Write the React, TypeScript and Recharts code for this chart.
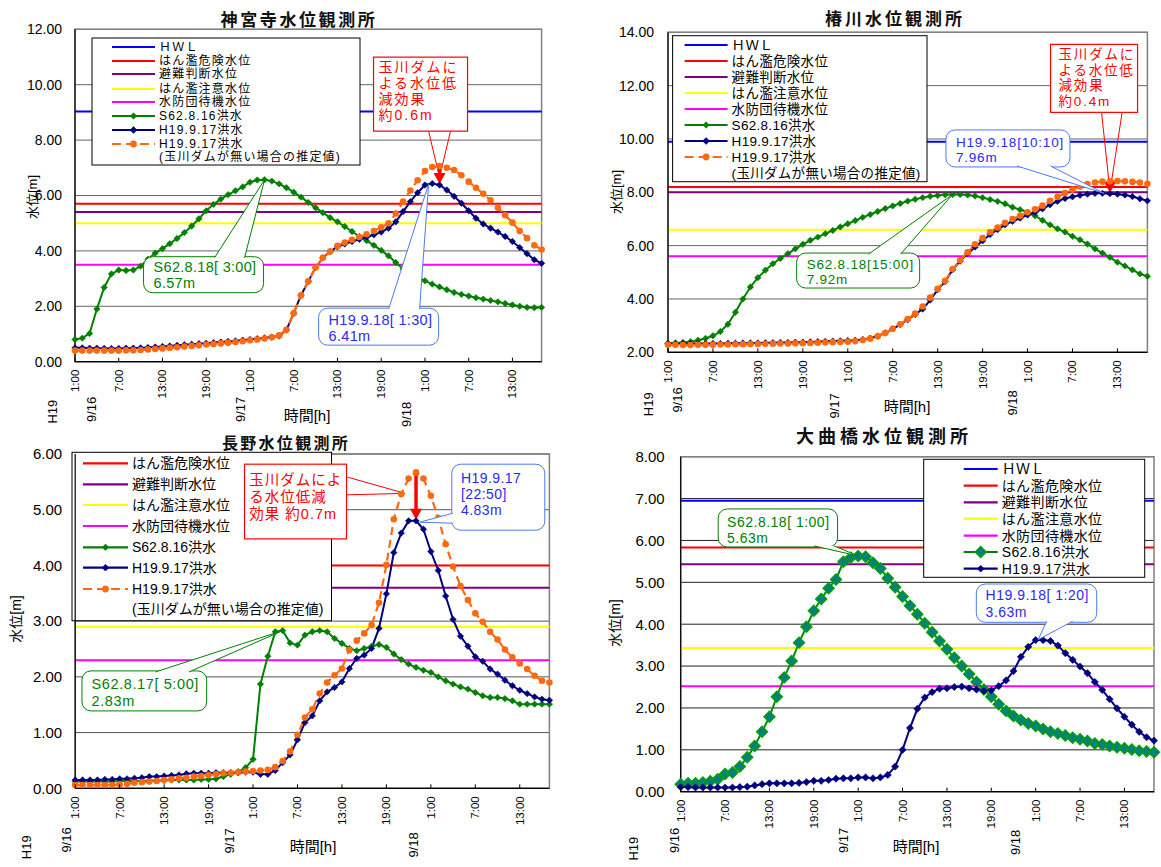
import React from "react";
import {
  LineChart,
  Line,
  XAxis,
  YAxis,
  CartesianGrid,
  ReferenceLine,
  ReferenceDot,
  ReferenceArea,
} from "recharts";

const JP = '"Noto Sans CJK JP", "Noto Sans", sans-serif';
const NUM = '"Liberation Sans", Arial, "Noto Sans CJK JP", sans-serif';

// time axis (hours from 9/16 1:00)
const tickHours = [0, 6, 12, 18, 24, 30, 36, 42, 48, 54, 60];
const tickLabels = ["1:00", "7:00", "13:00", "19:00", "1:00", "7:00", "13:00", "19:00", "1:00", "7:00", "13:00"];
const dateHours = [0, 24, 48];
const dateLabels = ["9/16", "9/17", "9/18"];
const eraLabel = "H19";

// warning levels
const levelNames = ["ＨＷＬ", "はん濫危険水位", "避難判断水位", "はん濫注意水位", "水防団待機水位"];
const levelColors = ["#0000ff", "#ff0000", "#800080", "#ffff00", "#ff00ff"];
const s62Name = "S62.8.16洪水";
const h19Name = "H19.9.17洪水";
const estName = "H19.9.17洪水";
const estNote = "(玉川ダムが無い場合の推定値)";

// 神宮寺
const jgLevels = [9.03, 5.7, 5.4, 5.0, 3.5];
const jgTicks = [0, 2, 4, 6, 8, 10, 12];
const jgS62 = [0.80,0.85,1.02,1.90,2.68,3.17,3.31,3.29,3.31,3.45,3.70,3.92,4.08,4.26,4.45,4.66,4.90,5.16,5.45,5.68,5.87,6.03,6.17,6.31,6.48,6.56,6.57,6.52,6.42,6.28,6.12,5.94,5.75,5.56,5.38,5.20,5.05,4.88,4.70,4.52,4.37,4.20,4.02,3.82,3.58,3.35,3.18,3.05,2.92,2.80,2.70,2.60,2.50,2.43,2.37,2.31,2.26,2.21,2.16,2.10,2.05,2.00,1.96,1.95,1.96];
const jgH19 = [0.50,0.50,0.49,0.49,0.48,0.48,0.48,0.49,0.49,0.50,0.51,0.53,0.55,0.57,0.59,0.61,0.63,0.65,0.67,0.69,0.71,0.73,0.75,0.78,0.80,0.83,0.86,0.89,0.93,1.15,1.75,2.40,2.90,3.40,3.75,3.98,4.15,4.25,4.34,4.42,4.50,4.58,4.68,4.82,5.05,5.42,5.78,6.10,6.38,6.43,6.38,6.20,5.97,5.72,5.45,5.18,4.97,4.82,4.68,4.52,4.34,4.12,3.90,3.68,3.55];
const jgEst = [0.40,0.40,0.40,0.40,0.40,0.40,0.40,0.41,0.41,0.42,0.44,0.46,0.48,0.50,0.52,0.55,0.57,0.59,0.62,0.64,0.66,0.68,0.71,0.74,0.77,0.80,0.84,0.88,0.95,1.15,1.75,2.40,2.90,3.40,3.75,3.98,4.18,4.30,4.40,4.50,4.60,4.72,4.85,5.00,5.35,5.78,6.18,6.55,6.88,7.03,7.06,7.00,6.92,6.73,6.50,6.28,6.06,5.83,5.56,5.29,5.02,4.72,4.46,4.20,4.05];

// 椿川
const tbLevels = [9.9, 8.2, 8.0, 6.6, 5.6];
const tbTicks = [2, 4, 6, 8, 10, 12, 14];
const tbS62 = [2.34,2.35,2.37,2.40,2.45,2.52,2.62,2.78,3.05,3.50,4.00,4.45,4.80,5.08,5.32,5.52,5.70,5.88,6.05,6.20,6.32,6.45,6.57,6.70,6.82,6.94,7.06,7.17,7.28,7.39,7.49,7.58,7.67,7.74,7.80,7.85,7.88,7.91,7.92,7.92,7.90,7.86,7.80,7.73,7.66,7.57,7.44,7.35,7.25,7.12,6.95,6.78,6.63,6.51,6.35,6.22,6.06,5.88,5.72,5.56,5.38,5.24,5.09,4.94,4.85];
const tbH19 = [2.33,2.33,2.33,2.33,2.33,2.33,2.33,2.33,2.34,2.34,2.35,2.35,2.35,2.36,2.36,2.37,2.37,2.38,2.38,2.39,2.40,2.41,2.42,2.43,2.44,2.45,2.48,2.53,2.61,2.73,2.88,3.04,3.22,3.42,3.62,3.96,4.35,4.65,5.10,5.42,5.70,5.95,6.18,6.42,6.60,6.78,6.91,7.03,7.15,7.25,7.38,7.53,7.66,7.77,7.83,7.89,7.93,7.96,7.96,7.95,7.93,7.90,7.84,7.76,7.68];
const tbEst = [2.28,2.28,2.27,2.27,2.28,2.28,2.28,2.29,2.29,2.30,2.30,2.31,2.31,2.32,2.32,2.33,2.33,2.34,2.34,2.35,2.36,2.37,2.38,2.39,2.40,2.42,2.46,2.52,2.60,2.72,2.88,3.05,3.25,3.45,3.72,4.05,4.38,4.68,5.12,5.45,5.75,6.05,6.28,6.50,6.68,6.86,7.00,7.12,7.25,7.36,7.50,7.68,7.83,7.97,8.10,8.22,8.31,8.37,8.40,8.41,8.42,8.41,8.39,8.37,8.32];

// 長野
const ngLevels = [null, 4.0, 3.6, 2.9, 2.3];
const ngTicks = [0, 1, 2, 3, 4, 5, 6];
const ngS62 = [0.12,0.12,0.12,0.12,0.12,0.12,0.13,0.13,0.13,0.13,0.14,0.14,0.14,0.15,0.15,0.15,0.15,0.16,0.16,0.17,0.21,0.25,0.30,0.37,0.52,1.87,2.37,2.81,2.83,2.61,2.57,2.75,2.81,2.83,2.81,2.69,2.60,2.51,2.47,2.51,2.55,2.58,2.53,2.41,2.31,2.23,2.17,2.12,2.08,2.00,1.93,1.87,1.82,1.78,1.72,1.66,1.63,1.63,1.61,1.57,1.51,1.51,1.51,1.51,1.51];
const ngH19 = [0.15,0.15,0.15,0.15,0.16,0.16,0.17,0.17,0.18,0.19,0.21,0.21,0.22,0.23,0.24,0.26,0.27,0.27,0.27,0.28,0.28,0.28,0.28,0.29,0.29,0.25,0.25,0.32,0.46,0.60,0.87,1.18,1.30,1.57,1.73,1.81,1.91,2.15,2.33,2.39,2.51,2.87,3.49,4.23,4.58,4.80,4.80,4.65,4.25,3.91,3.45,3.03,2.73,2.55,2.36,2.28,2.14,2.05,1.94,1.84,1.76,1.70,1.64,1.60,1.58];
const ngEst = [0.06,0.06,0.06,0.06,0.06,0.06,0.07,0.08,0.10,0.11,0.12,0.13,0.15,0.16,0.18,0.19,0.21,0.22,0.24,0.25,0.27,0.28,0.29,0.30,0.31,0.32,0.33,0.38,0.49,0.66,0.96,1.27,1.42,1.70,1.90,2.03,2.15,2.48,2.65,2.78,2.93,3.33,4.01,4.83,5.28,5.56,5.67,5.56,5.25,4.85,4.38,3.98,3.63,3.38,3.14,2.99,2.81,2.67,2.49,2.35,2.24,2.14,2.02,1.93,1.90];

// 大曲橋
const omLevels = [6.95, 5.83, 5.43, 3.43, 2.52];
const omTicks = [0, 1, 2, 3, 4, 5, 6, 7, 8];
const omS62 = [0.18,0.20,0.20,0.22,0.25,0.30,0.42,0.46,0.60,0.82,1.09,1.43,1.79,2.27,2.73,3.12,3.56,3.94,4.32,4.60,4.86,5.07,5.49,5.59,5.63,5.61,5.47,5.33,5.10,4.88,4.66,4.44,4.24,4.02,3.81,3.60,3.40,3.20,3.00,2.81,2.62,2.44,2.27,2.09,1.93,1.81,1.71,1.63,1.57,1.50,1.43,1.39,1.34,1.29,1.25,1.21,1.15,1.13,1.09,1.06,1.04,1.01,0.98,0.96,0.94];
const omH19 = [0.11,0.11,0.10,0.10,0.10,0.10,0.10,0.10,0.11,0.12,0.15,0.18,0.20,0.20,0.20,0.20,0.21,0.23,0.26,0.26,0.28,0.31,0.32,0.32,0.34,0.34,0.32,0.34,0.40,0.60,1.00,1.52,1.98,2.25,2.38,2.46,2.47,2.50,2.51,2.47,2.44,2.41,2.42,2.52,2.66,2.88,3.22,3.46,3.62,3.62,3.60,3.49,3.31,3.15,2.99,2.83,2.62,2.43,2.21,1.99,1.79,1.60,1.43,1.30,1.22];

const GREEN = "#008000";
const NAVY = "#000080";
const ORANGE = "#ff6a10";
const CALL_BLUE = "#2a2af0";
const RED = "#ff0000";

type Callout = {
  x: number; y: number; dx: number; dy: number; w: number; h: number;
  base: number[][]; tip?: number[]; lines: string[]; color: string; border: string;
  fs: number; ls: number; pad: number; base0: number; lh: number;
};
type Dam = {
  x: number; top: number; bottom: number; dx: number; dy: number; w: number; h: number;
  base: number[][]; tip: number[]; lines: string[]; fs: number; ls: number; pad: number; base0: number; lh: number;
};

const diamond = (color: string, s: number, stroke?: string) => (p: any) => {
  const { cx, cy, index } = p;
  if (cx == null || cy == null) return <g key={index} />;
  return (
    <path
      key={index}
      d={`M${cx},${cy - s}L${cx + s},${cy}L${cx},${cy + s}L${cx - s},${cy}Z`}
      fill={color}
      stroke={stroke ?? color}
      strokeWidth={stroke ? 1.4 : 0.6}
    />
  );
};
const dotCircle = (color: string, r: number) => (p: any) => {
  const { cx, cy, index } = p;
  if (cx == null || cy == null) return <g key={index} />;
  return <circle key={index} cx={cx} cy={cy} r={r} fill={color} />;
};

function CalloutShape({ cx, cy, c }: { cx: number; cy: number; c: Callout }) {
  const bx = cx + c.dx;
  const by = cy + c.dy;
  const tx = cx + (c.tip ? c.tip[0] : 0);
  const ty = cy + (c.tip ? c.tip[1] : 0);
  return (
    <g>
      <rect x={bx} y={by} width={c.w} height={c.h} rx={9} fill="#fff" stroke={c.border} strokeWidth={1} />
      <path
        d={`M${bx + c.base[0][0]},${by + c.base[0][1]}L${tx},${ty}L${bx + c.base[1][0]},${by + c.base[1][1]}`}
        fill="#fff"
        stroke={c.border}
        strokeWidth={1}
      />
      {c.lines.map((s, i) => (
        <text
          key={i}
          x={bx + c.pad}
          y={by + c.base0 + i * c.lh}
          fill={c.color}
          fontSize={c.fs}
          letterSpacing={c.ls}
          fontFamily={NUM}
        >
          {s}
        </text>
      ))}
    </g>
  );
}

function DamShape(props: any) {
  const { x1, y1, y2, d } = props as { x1: number; y1: number; y2: number; d: Dam };
  const bx = x1 + d.dx;
  const by = y1 + d.dy;
  const tx = x1 + d.tip[0];
  const ty = y1 + d.tip[1];
  const head = 11;
  return (
    <g>
      <path
        d={`M${bx + d.base[0][0]},${by + d.base[0][1]}L${tx},${ty}L${bx + d.base[1][0]},${by + d.base[1][1]}`}
        fill="none"
        stroke={RED}
        strokeWidth={1}
      />
      <rect x={bx} y={by} width={d.w} height={d.h} fill="#fff" stroke={RED} strokeWidth={1.2} />
      {d.lines.map((s, i) => (
        <text
          key={i}
          x={bx + d.pad}
          y={by + d.base0 + i * d.lh}
          fill={RED}
          fontSize={d.fs}
          letterSpacing={d.ls}
          fontFamily={NUM}
        >
          {s}
        </text>
      ))}
      <line x1={x1} y1={y1 + 1} x2={x1} y2={y2 - head} stroke={RED} strokeWidth={3.5} />
      <path d={`M${x1 - 6},${y2 - head - 1}L${x1 + 6},${y2 - head - 1}L${x1},${y2 - 1}Z`} fill={RED} />
    </g>
  );
}

type Cfg = {
  title: string; titleX: number; titleY: number; titleSize: number; titleSpacing: number;
  box: { left: number; top: number; width: number; height: number };
  plot: { left: number; right: number; top: number; bottom: number };
  yDomain: [number, number]; yTicks: number[]; yFont: number; yMargin: number;
  levels: (number | null)[];
  s62: number[]; h19: number[]; est?: number[];
  gridColor: string; big?: boolean;
  ylabel: { x: number; y: number; fs: number };
  xlabel: { x: number; y: number };
  dateDx: number[]; dateDy: number[]; eraDx: number; eraDy: number;
  legend: { x: number; y: number; w: number; h: number; lx1: number; lx2: number; tx: number; rows: number[]; fs: number; ls: number };
  callouts: Callout[];
  dam?: Dam;
};

const charts: Cfg[] = [
  {
    title: "神宮寺水位観測所", titleX: 299, titleY: 18, titleSize: 17, titleSpacing: 2.6,
    box: { left: 0, top: 0, width: 580, height: 430 },
    plot: { left: 75, right: 541.6, top: 29.3, bottom: 361.7 },
    yDomain: [0, 12], yTicks: jgTicks, yFont: 14, yMargin: 13,
    levels: jgLevels, s62: jgS62, h19: jgH19, est: jgEst, gridColor: "#666",
    ylabel: { x: 30.5, y: 197, fs: 13 }, xlabel: { x: 307, y: 414 },
    dateDx: [16, -9, -18], dateDy: [35, 35, 40], eraDx: -23, eraDy: 38,
    legend: { x: 92, y: 38, w: 268, h: 127, lx1: 20, lx2: 63, tx: 67, rows: [9, 23, 36, 51, 64, 78, 92, 106, 119], fs: 12, ls: 1.2 },
    callouts: [
      { x: 26, y: 6.57, dx: -121, dy: 77, w: 120, h: 36, base: [[71, 1], [101, 1]], lines: ["S62.8.18[ 3:00]", "6.57m"], color: GREEN, border: GREEN, fs: 14.5, ls: 0.3, pad: 10, base0: 15, lh: 16.6 },
      { x: 48.5, y: 6.41, dx: -110, dy: 124, w: 120, h: 37, base: [[70, 1], [101, 1]], lines: ["H19.9.18[ 1:30]", "6.41m"], color: CALL_BLUE, border: "#4a7af5", fs: 14.5, ls: 0.3, pad: 10, base0: 16.5, lh: 16.6 },
    ],
    dam: { x: 50, top: jgEst[50], bottom: jgH19[50], dx: -66, dy: -109, w: 94, h: 74, base: [[55, 74], [77, 74]], tip: [0, 11], lines: ["玉川ダムに", "よる水位低", "減効果", "約0.6m"], fs: 14, ls: 2, pad: 5, base0: 15, lh: 16 },
  },
  {
    title: "椿川水位観測所", titleX: 895, titleY: 17, titleSize: 17, titleSpacing: 3,
    box: { left: 580, top: 0, width: 581, height: 430 },
    plot: { left: 668, right: 1147.4, top: 32.3, bottom: 352.3 },
    yDomain: [2, 14], yTicks: tbTicks, yFont: 14, yMargin: 14,
    levels: tbLevels, s62: tbS62, h19: tbH19, est: tbEst, gridColor: "#666",
    ylabel: { x: 614.5, y: 192, fs: 13 }, xlabel: { x: 907, y: 405 },
    dateDx: [9, -13, -15], dateDy: [35, 41, 38], eraDx: -19.5, eraDy: 40,
    legend: { x: 672.6, y: 35.7, w: 254.4, h: 146, lx1: 12, lx2: 55, tx: 59, rows: [9.3, 25.3, 41.3, 57.3, 73.3, 89.3, 105.3, 121.3, 137.3], fs: 13.5, ls: 0.3 },
    callouts: [
      { x: 38, y: 7.92, dx: -156, dy: 58.6, w: 123, h: 35, base: [[72, 1], [104, 1]], lines: ["S62.8.18[15:00]", "7.92m"], color: GREEN, border: GREEN, fs: 13.5, ls: 0.8, pad: 10, base0: 15.5, lh: 15.5 },
      { x: 57.17, y: 7.96, dx: -150.3, dy: -63.4, w: 124, h: 37, base: [[71, 36], [104.5, 36]], tip: [8, 0], lines: ["H19.9.18[10:10]", "7.96m"], color: CALL_BLUE, border: "#4a7af5", fs: 13.5, ls: 0.8, pad: 10, base0: 17, lh: 15.5 },
    ],
    dam: { x: 59, top: tbEst[59], bottom: tbH19[59], dx: -59.4, dy: -137, w: 87, h: 68, base: [[51, 68], [71.6, 68]], tip: [0, 10], lines: ["玉川ダムに", "よる水位低", "減効果", "約0.4m"], fs: 13.5, ls: 1.8, pad: 8, base0: 14.5, lh: 15.8 },
  },
  {
    title: "長野水位観測所", titleX: 286, titleY: 442, titleSize: 16, titleSpacing: 2.3,
    box: { left: 0, top: 430, width: 580, height: 437 },
    plot: { left: 75.2, right: 549.4, top: 454, bottom: 788.3 },
    yDomain: [0, 6], yTicks: ngTicks, yFont: 15, yMargin: 13,
    levels: ngLevels, s62: ngS62, h19: ngH19, est: ngEst, gridColor: "#555",
    ylabel: { x: 15, y: 619, fs: 14 }, xlabel: { x: 313, y: 845 },
    dateDx: [-9, -23.4, -17], dateDy: [39, 40, 44], eraDx: -49, eraDy: 47,
    legend: { x: 72, y: 452.3, w: 259.5, h: 168.4, lx1: 11, lx2: 56, tx: 60, rows: [11, 32, 52.7, 73.7, 95, 115.4, 136.7, 157], fs: 14, ls: 0 },
    callouts: [
      { x: 28, y: 2.83, dx: -200.7, dy: 40.3, w: 124.7, h: 40, base: [[73.6, 1], [107, 1]], lines: ["S62.8.17[ 5:00]", "2.83m"], color: GREEN, border: GREEN, fs: 14.5, ls: 0.6, pad: 9.6, base0: 18, lh: 17 },
      { x: 45.83, y: 4.83, dx: 37, dy: -55, w: 93, h: 66, base: [[1, 49], [1, 59]], tip: [5, 3], lines: ["H19.9.17", "[22:50]", "4.83m"], color: CALL_BLUE, border: "#4a7af5", fs: 14, ls: 0.4, pad: 9.3, base0: 18.5, lh: 16.3 },
    ],
    dam: { x: 46, top: ngEst[46], bottom: ngH19[46], dx: -171.5, dy: -8.2, w: 102, h: 74.7, base: [[101, 12.4], [101, 30.7]], tip: [-11, 21], lines: ["玉川ダムによ", "る水位低減", "効果 約0.7m"], fs: 14.5, ls: 1, pad: 4.8, base0: 21, lh: 17 },
  },
  {
    title: "大曲橋水位観測所", titleX: 884, titleY: 435, titleSize: 18, titleSpacing: 4,
    box: { left: 580, top: 430, width: 581, height: 437 },
    plot: { left: 680.7, right: 1154, top: 456.7, bottom: 791.7 },
    yDomain: [0, 8], yTicks: omTicks, yFont: 15, yMargin: 16,
    levels: omLevels, s62: omS62, h19: omH19, gridColor: "#222", big: true,
    ylabel: { x: 614, y: 623, fs: 14 }, xlabel: { x: 916, y: 845 },
    dateDx: [-6, -14.5, -20.5], dateDy: [36, 36, 38], eraDx: -47, eraDy: 45,
    legend: { x: 923.7, y: 459.3, w: 221, h: 118, lx1: 40, lx2: 74, tx: 78, rows: [9.7, 26.4, 43, 59.4, 76.4, 92.7, 109.4], fs: 14, ls: 0.4 },
    callouts: [
      { x: 24, y: 5.63, dx: -140, dy: -47, w: 119.4, h: 38, base: [[96, 37], [116, 37]], lines: ["S62.8.18[ 1:00]", "5.63m"], color: GREEN, border: GREEN, fs: 14, ls: 0.5, pad: 8.9, base0: 18, lh: 16.5 },
      { x: 48.33, y: 3.63, dx: -61.8, dy: -55.7, w: 120.4, h: 38.3, base: [[70.4, 37.3], [96.3, 37.3]], lines: ["H19.9.18[ 1:20]", "3.63m"], color: CALL_BLUE, border: "#4a7af5", fs: 14, ls: 0.5, pad: 9.3, base0: 16.5, lh: 16.5 },
    ],
  },
];

function LegendBox({ c }: { c: Cfg }) {
  const lg = c.legend;
  const ox = lg.x - c.box.left;
  const oy = lg.y - c.box.top;
  type Item = { name: string; color: string; kind: string };
  const items: Item[] = [];
  c.levels.forEach((v, i) => {
    if (v != null) items.push({ name: levelNames[i], color: levelColors[i], kind: "level" });
  });
  items.push({ name: s62Name, color: GREEN, kind: "s62" });
  items.push({ name: h19Name, color: NAVY, kind: "h19" });
  if (c.est) items.push({ name: estName, color: ORANGE, kind: "est" });
  const mid = ox + (lg.lx1 + lg.lx2) / 2;
  return (
    <g>
      <rect x={ox} y={oy} width={lg.w} height={lg.h} fill="#fff" stroke="#000" strokeWidth={1} />
      {items.map((it, i) => {
        const y = oy + lg.rows[i];
        let marker: React.ReactNode = null;
        if (it.kind === "s62") {
          marker = c.big
            ? diamond("#008080", 5.5, "#00a000")({ cx: mid, cy: y, index: 0 })
            : diamond(GREEN, 3.2)({ cx: mid, cy: y, index: 0 });
        } else if (it.kind === "h19") {
          marker = diamond(NAVY, 3.4)({ cx: mid, cy: y, index: 0 });
        } else if (it.kind === "est") {
          marker = <circle cx={mid} cy={y} r={3.4} fill={ORANGE} />;
        }
        return (
          <g key={i}>
            <line
              x1={ox + lg.lx1}
              x2={ox + lg.lx2}
              y1={y}
              y2={y}
              stroke={it.color}
              strokeWidth={2.2}
              strokeDasharray={it.kind === "est" ? "9 5" : undefined}
            />
            {marker}
            <text
              x={ox + lg.tx}
              y={y}
              dominantBaseline="central"
              fontSize={lg.fs}
              letterSpacing={lg.ls}
              fontFamily={NUM}
              fill="#000"
            >
              {it.name}
            </text>
          </g>
        );
      })}
      {c.est && (
        <text
          x={ox + lg.tx}
          y={oy + lg.rows[items.length]}
          dominantBaseline="central"
          fontSize={lg.fs}
          letterSpacing={lg.ls}
          fontFamily={NUM}
          fill="#000"
        >
          {estNote}
        </text>
      )}
    </g>
  );
}

function StationChart({ c }: { c: Cfg }) {
  const rows = c.s62.map((v, i) => ({ t: i, s62: v, h19: c.h19[i], est: c.est ? c.est[i] : undefined }));
  const W = c.box.width;
  const H = c.box.height;
  const margin = {
    top: c.plot.top - c.box.top,
    right: c.box.left + W - c.plot.right,
    bottom: 0,
    left: 0,
  };
  const yW = c.plot.left - c.box.left;
  const xH = c.box.top + H - c.plot.bottom;

  const renderTick = (p: any) => {
    const { x, y, payload } = p;
    const idx = tickHours.indexOf(payload.value);
    const di = dateHours.indexOf(payload.value);
    return (
      <g>
        <line x1={x} y1={y} x2={x} y2={y - 4} stroke="#000" />
        <text
          transform={`translate(${x},${y + 8}) rotate(-90)`}
          textAnchor="end"
          dominantBaseline="central"
          fontSize={11.5}
          fontFamily={NUM}
          fill="#000"
        >
          {tickLabels[idx]}
        </text>
        {di >= 0 && (
          <text
            transform={`translate(${x + c.dateDx[di]},${y + c.dateDy[di]}) rotate(-90)`}
            textAnchor="end"
            dominantBaseline="central"
            fontSize={13}
            fontFamily={NUM}
            fill="#000"
          >
            {dateLabels[di]}
          </text>
        )}
        {di === 0 && (
          <text
            transform={`translate(${x + c.eraDx},${y + c.eraDy}) rotate(-90)`}
            textAnchor="end"
            dominantBaseline="central"
            fontSize={13}
            fontFamily={NUM}
            fill="#000"
          >
            {eraLabel}
          </text>
        )}
      </g>
    );
  };

  return (
    <div style={{ position: "absolute", left: c.box.left, top: c.box.top, width: W, height: H }}>
      <LineChart width={W} height={H} data={rows} margin={margin}>
        <CartesianGrid vertical={false} stroke={c.gridColor} />
        <ReferenceArea
          x1={0}
          x2={64}
          y1={c.yDomain[0]}
          y2={c.yDomain[1]}
          fill="none"
          fillOpacity={0}
          stroke="#808080"
          strokeWidth={1.5}
          ifOverflow="visible"
        />
        {c.levels.map((v, i) =>
          v == null ? null : (
            <ReferenceLine key={`lv${i}`} y={v} stroke={levelColors[i]} strokeWidth={2} />
          )
        )}
        <XAxis
          dataKey="t"
          type="number"
          domain={[0, 64]}
          ticks={tickHours}
          interval={0}
          height={xH}
          tickSize={0}
          tickMargin={0}
          tickLine={false}
          axisLine={{ stroke: "#000", strokeWidth: 1.2 }}
          tick={renderTick}
        />
        <YAxis
          type="number"
          domain={c.yDomain}
          ticks={c.yTicks}
          interval={0}
          width={yW}
          tickSize={0}
          tickMargin={c.yMargin}
          tickLine={false}
          axisLine={{ stroke: "#000", strokeWidth: 1.2 }}
          tick={{ fill: "#000", fontSize: c.yFont, fontFamily: NUM }}
          tickFormatter={(v: number) => v.toFixed(2)}
        />
        <Line
          dataKey="s62"
          stroke={c.big ? "#009000" : GREEN}
          strokeWidth={2}
          dot={c.big ? diamond("#008080", 5.5, "#00a000") : diamond(GREEN, 3.2)}
          activeDot={false}
          isAnimationActive={false}
        />
        <Line
          dataKey="h19"
          stroke={NAVY}
          strokeWidth={2}
          dot={diamond(NAVY, c.big ? 3.6 : 3.2)}
          activeDot={false}
          isAnimationActive={false}
        />
        {c.est && (
          <Line
            dataKey="est"
            stroke={ORANGE}
            strokeWidth={2.2}
            strokeDasharray="8 5"
            dot={dotCircle(ORANGE, 3.3)}
            activeDot={false}
            isAnimationActive={false}
          />
        )}
        {/* legend box drawn in the reference-line layer so it hides the level lines */}
        <ReferenceLine
          y={c.yDomain[1]}
          ifOverflow="visible"
          shape={() => <LegendBox c={c} />}
        />
        {c.callouts.map((co, i) => (
          <ReferenceDot
            key={`co${i}`}
            x={co.x}
            y={co.y}
            r={0}
            ifOverflow="visible"
            shape={(p: any) => <CalloutShape cx={p.cx} cy={p.cy} c={co} />}
          />
        ))}
        {c.dam && (
          <ReferenceLine
            segment={[
              { x: c.dam.x, y: c.dam.top },
              { x: c.dam.x, y: c.dam.bottom },
            ]}
            ifOverflow="visible"
            shape={(p: any) => <DamShape {...p} d={c.dam} />}
          />
        )}
      </LineChart>
    </div>
  );
}

function Overlays({ c }: { c: Cfg }) {
  return (
    <>
      <div
        style={{
          position: "absolute",
          left: c.titleX,
          top: c.titleY,
          transform: "translate(-50%, -50%)",
          whiteSpace: "nowrap",
          fontFamily: JP,
          fontWeight: 700,
          fontSize: c.titleSize,
          letterSpacing: c.titleSpacing,
          color: "#111",
        }}
      >
        {c.title}
      </div>
      <div
        style={{
          position: "absolute",
          left: c.ylabel.x,
          top: c.ylabel.y,
          transform: "translate(-50%, -50%) rotate(-90deg)",
          whiteSpace: "nowrap",
          fontFamily: NUM,
          fontSize: c.ylabel.fs,
          color: "#000",
        }}
      >
        水位[m]
      </div>
      <div
        style={{
          position: "absolute",
          left: c.xlabel.x,
          top: c.xlabel.y,
          transform: "translate(-50%, -50%)",
          whiteSpace: "nowrap",
          fontFamily: NUM,
          fontSize: 15,
          color: "#000",
        }}
      >
        時間[h]
      </div>
    </>
  );
}

export default function App() {
  return (
    <div
      style={{
        position: "absolute",
        left: 0,
        top: 0,
        width: 1161,
        height: 867,
        background: "#fff",
        overflow: "hidden",
      }}
    >
      {charts.map((c, i) => (
        <StationChart key={i} c={c} />
      ))}
      {charts.map((c, i) => (
        <Overlays key={`o${i}`} c={c} />
      ))}
    </div>
  );
}
